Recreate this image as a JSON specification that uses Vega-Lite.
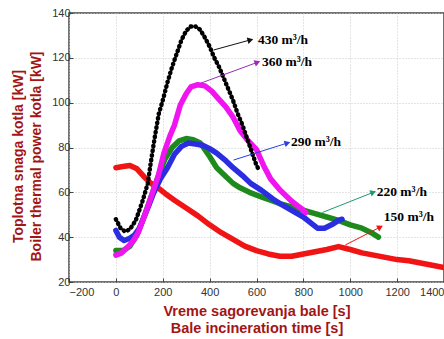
{
  "$schema": "https://vega.github.io/schema/vega-lite/v6.json",
  "width": 375,
  "height": 269,
  "autosize": {"type": "none"},
  "padding": {"left": 69, "top": 13, "right": 0, "bottom": 57},
  "background": "white",
  "config": {
    "view": {"stroke": "#444", "strokeWidth": 1.5},
    "axis": {
      "labelFont": "Liberation Sans",
      "labelFontSize": 11,
      "labelColor": "#333",
      "titleFont": "Liberation Sans",
      "titleFontWeight": "bold",
      "titleColor": "#a31515",
      "gridColor": "#c8c8c8",
      "gridDash": [1, 2],
      "domain": false,
      "tickColor": "#444",
      "tickSize": -4,
      "labelPadding": 3
    }
  },
  "datasets": {
    "curves": [
      {"s": "150", "t": 0, "p": 71}, {"s": "150", "t": 30, "p": 71.5}, {"s": "150", "t": 60, "p": 72}, {"s": "150", "t": 90, "p": 70.5}, {"s": "150", "t": 120, "p": 67}, {"s": "150", "t": 150, "p": 64}, {"s": "150", "t": 180, "p": 62}, {"s": "150", "t": 210, "p": 59.5}, {"s": "150", "t": 250, "p": 56.5}, {"s": "150", "t": 300, "p": 53}, {"s": "150", "t": 350, "p": 49.5}, {"s": "150", "t": 400, "p": 45.5}, {"s": "150", "t": 450, "p": 42}, {"s": "150", "t": 500, "p": 39}, {"s": "150", "t": 550, "p": 36}, {"s": "150", "t": 600, "p": 34}, {"s": "150", "t": 650, "p": 32.5}, {"s": "150", "t": 700, "p": 31.5}, {"s": "150", "t": 750, "p": 31.5}, {"s": "150", "t": 800, "p": 32.5}, {"s": "150", "t": 850, "p": 33.5}, {"s": "150", "t": 900, "p": 34.5}, {"s": "150", "t": 950, "p": 35.8}, {"s": "150", "t": 1000, "p": 34.5}, {"s": "150", "t": 1050, "p": 33}, {"s": "150", "t": 1100, "p": 32}, {"s": "150", "t": 1150, "p": 31}, {"s": "150", "t": 1200, "p": 30}, {"s": "150", "t": 1250, "p": 29.5}, {"s": "150", "t": 1300, "p": 28.5}, {"s": "150", "t": 1350, "p": 27.5}, {"s": "150", "t": 1400, "p": 26.5},
      {"s": "220", "t": 0, "p": 34}, {"s": "220", "t": 30, "p": 34}, {"s": "220", "t": 60, "p": 36}, {"s": "220", "t": 90, "p": 41}, {"s": "220", "t": 120, "p": 49}, {"s": "220", "t": 150, "p": 58}, {"s": "220", "t": 180, "p": 67}, {"s": "220", "t": 210, "p": 75}, {"s": "220", "t": 240, "p": 80}, {"s": "220", "t": 270, "p": 83}, {"s": "220", "t": 300, "p": 84}, {"s": "220", "t": 330, "p": 83.5}, {"s": "220", "t": 360, "p": 82}, {"s": "220", "t": 400, "p": 76}, {"s": "220", "t": 430, "p": 71}, {"s": "220", "t": 470, "p": 67}, {"s": "220", "t": 500, "p": 64}, {"s": "220", "t": 530, "p": 62}, {"s": "220", "t": 570, "p": 60}, {"s": "220", "t": 620, "p": 58}, {"s": "220", "t": 660, "p": 56.5}, {"s": "220", "t": 700, "p": 55}, {"s": "220", "t": 750, "p": 53.5}, {"s": "220", "t": 800, "p": 52}, {"s": "220", "t": 850, "p": 50.5}, {"s": "220", "t": 900, "p": 49}, {"s": "220", "t": 950, "p": 47.5}, {"s": "220", "t": 1000, "p": 45.5}, {"s": "220", "t": 1050, "p": 44}, {"s": "220", "t": 1090, "p": 42}, {"s": "220", "t": 1120, "p": 40},
      {"s": "290", "t": 0, "p": 43}, {"s": "290", "t": 15, "p": 40}, {"s": "290", "t": 35, "p": 38.5}, {"s": "290", "t": 60, "p": 39.5}, {"s": "290", "t": 80, "p": 41}, {"s": "290", "t": 100, "p": 44}, {"s": "290", "t": 120, "p": 49}, {"s": "290", "t": 140, "p": 54}, {"s": "290", "t": 160, "p": 59.5}, {"s": "290", "t": 190, "p": 66}, {"s": "290", "t": 220, "p": 71}, {"s": "290", "t": 250, "p": 77}, {"s": "290", "t": 280, "p": 80.5}, {"s": "290", "t": 310, "p": 82}, {"s": "290", "t": 340, "p": 81.5}, {"s": "290", "t": 370, "p": 81}, {"s": "290", "t": 400, "p": 79.5}, {"s": "290", "t": 430, "p": 77.5}, {"s": "290", "t": 470, "p": 74}, {"s": "290", "t": 500, "p": 71}, {"s": "290", "t": 540, "p": 67.5}, {"s": "290", "t": 575, "p": 64}, {"s": "290", "t": 620, "p": 61}, {"s": "290", "t": 670, "p": 57}, {"s": "290", "t": 700, "p": 55}, {"s": "290", "t": 750, "p": 52}, {"s": "290", "t": 800, "p": 49}, {"s": "290", "t": 830, "p": 46.5}, {"s": "290", "t": 860, "p": 44}, {"s": "290", "t": 890, "p": 44}, {"s": "290", "t": 920, "p": 45.5}, {"s": "290", "t": 950, "p": 47.5}, {"s": "290", "t": 965, "p": 48},
      {"s": "360", "t": 0, "p": 32}, {"s": "360", "t": 25, "p": 33}, {"s": "360", "t": 50, "p": 35.5}, {"s": "360", "t": 75, "p": 38.5}, {"s": "360", "t": 95, "p": 42}, {"s": "360", "t": 115, "p": 47.5}, {"s": "360", "t": 136, "p": 53.5}, {"s": "360", "t": 160, "p": 61}, {"s": "360", "t": 180, "p": 67}, {"s": "360", "t": 205, "p": 77.5}, {"s": "360", "t": 230, "p": 85}, {"s": "360", "t": 250, "p": 90}, {"s": "360", "t": 275, "p": 99}, {"s": "360", "t": 300, "p": 104}, {"s": "360", "t": 320, "p": 107}, {"s": "360", "t": 350, "p": 108}, {"s": "360", "t": 380, "p": 107.5}, {"s": "360", "t": 410, "p": 105}, {"s": "360", "t": 440, "p": 101.5}, {"s": "360", "t": 470, "p": 98}, {"s": "360", "t": 500, "p": 93.5}, {"s": "360", "t": 530, "p": 87.5}, {"s": "360", "t": 560, "p": 83.5}, {"s": "360", "t": 600, "p": 79}, {"s": "360", "t": 630, "p": 72}, {"s": "360", "t": 660, "p": 66}, {"s": "360", "t": 700, "p": 61}, {"s": "360", "t": 750, "p": 56}, {"s": "360", "t": 800, "p": 52}, {"s": "360", "t": 810, "p": 51},
      {"s": "430", "t": 0, "p": 48}, {"s": "430", "t": 20, "p": 44}, {"s": "430", "t": 40, "p": 42.5}, {"s": "430", "t": 60, "p": 43.5}, {"s": "430", "t": 85, "p": 47.5}, {"s": "430", "t": 100, "p": 52}, {"s": "430", "t": 115, "p": 56.5}, {"s": "430", "t": 136, "p": 64}, {"s": "430", "t": 150, "p": 74}, {"s": "430", "t": 165, "p": 84}, {"s": "430", "t": 183, "p": 95}, {"s": "430", "t": 200, "p": 101}, {"s": "430", "t": 220, "p": 109}, {"s": "430", "t": 240, "p": 116}, {"s": "430", "t": 260, "p": 122}, {"s": "430", "t": 280, "p": 128}, {"s": "430", "t": 300, "p": 132}, {"s": "430", "t": 320, "p": 134}, {"s": "430", "t": 340, "p": 134}, {"s": "430", "t": 360, "p": 132.5}, {"s": "430", "t": 380, "p": 129}, {"s": "430", "t": 400, "p": 125}, {"s": "430", "t": 420, "p": 120}, {"s": "430", "t": 440, "p": 116}, {"s": "430", "t": 460, "p": 111}, {"s": "430", "t": 480, "p": 106}, {"s": "430", "t": 500, "p": 101}, {"s": "430", "t": 520, "p": 95}, {"s": "430", "t": 540, "p": 90}, {"s": "430", "t": 560, "p": 84}, {"s": "430", "t": 580, "p": 78}, {"s": "430", "t": 600, "p": 72}, {"s": "430", "t": 608, "p": 70.5}
    ],
    "notes": [
      {"s": "430", "label": "430 m³/h", "t": 417, "p": 123.5, "t2": 574, "p2": 128, "lt": 606, "lp": 128, "angle": -15},
      {"s": "360", "label": "360 m³/h", "t": 362, "p": 108.7, "t2": 604, "p2": 118, "lt": 623, "lp": 118, "angle": -20},
      {"s": "290", "label": "290 m³/h", "t": 502, "p": 74.4, "t2": 732, "p2": 82, "lt": 747, "lp": 82.5, "angle": -17},
      {"s": "220", "label": "220 m³/h", "t": 881, "p": 51, "t2": 1098, "p2": 60, "lt": 1113, "lp": 60, "angle": -21},
      {"s": "150", "label": "150 m³/h", "t": 979, "p": 36.5, "t2": 1128, "p2": 44.5, "lt": 1143, "lp": 49, "angle": -27}
    ]
  },
  "layer": [
    {
      "data": {"name": "curves"},
      "transform": [{"filter": "datum.s != '430'"}],
      "mark": {"type": "line", "strokeWidth": 5.5, "strokeCap": "round", "strokeJoin": "round"},
      "encoding": {
        "x": {
          "field": "t", "type": "quantitative",
          "scale": {"domain": [-200, 1400], "nice": false, "zero": false},
          "axis": {"values": [-200, 0, 200, 400, 600, 800, 1000, 1200, 1400], "format": "d", "labelPadding": 8, "title": ["Vreme sagorevanja bale [s]", "Bale incineration time [s]"], "titleFontSize": 14.5, "titleLineHeight": 17, "titlePadding": 7}
        },
        "y": {
          "field": "p", "type": "quantitative",
          "scale": {"domain": [20, 140], "nice": false, "zero": false},
          "axis": {"values": [20, 40, 60, 80, 100, 120, 140], "format": "d", "title": ["Toplotna snaga kotla [kW]", "Boiler thermal power kotla [kW]"], "titleFontSize": 14, "titleLineHeight": 18, "titlePadding": 8, "titleY": 143}
        },
        "color": {
          "field": "s", "type": "nominal",
          "scale": {"domain": ["150", "220", "290", "360"], "range": ["#f01414", "#1e8a1e", "#2a2ee0", "#f014f0"]},
          "legend": null
        }
      }
    },
    {
      "data": {"name": "curves"},
      "transform": [{"filter": "datum.s == '430'"}],
      "mark": {"type": "line", "strokeWidth": 4.5, "strokeCap": "round", "strokeDash": [0.5, 4.2], "color": "black"},
      "encoding": {
        "x": {"field": "t", "type": "quantitative"},
        "y": {"field": "p", "type": "quantitative"}
      }
    },
    {
      "data": {"name": "notes"},
      "mark": {"type": "rule", "strokeWidth": 1},
      "encoding": {
        "x": {"field": "t", "type": "quantitative"},
        "y": {"field": "p", "type": "quantitative"},
        "x2": {"field": "t2"},
        "y2": {"field": "p2"},
        "color": {"field": "s", "type": "nominal", "scale": {"domain": ["150", "220", "290", "360", "430"], "range": ["#f01414", "#1e9a70", "#2a40e0", "#9a2ab8", "#111111"]}, "legend": null}
      }
    },
    {
      "data": {"name": "notes"},
      "mark": {"type": "point", "shape": "triangle-right", "filled": true, "size": 45, "opacity": 1},
      "encoding": {
        "x": {"field": "t2", "type": "quantitative"},
        "y": {"field": "p2", "type": "quantitative"},
        "angle": {"field": "angle", "type": "quantitative", "scale": null},
        "color": {"field": "s", "type": "nominal", "scale": {"domain": ["150", "220", "290", "360", "430"], "range": ["#f01414", "#1e9a70", "#2a40e0", "#9a2ab8", "#111111"]}, "legend": null}
      }
    },
    {
      "data": {"name": "notes"},
      "mark": {"type": "text", "align": "left", "baseline": "middle", "font": "Liberation Serif", "fontSize": 13.5, "fontWeight": "bold", "color": "black"},
      "encoding": {
        "x": {"field": "lt", "type": "quantitative"},
        "y": {"field": "lp", "type": "quantitative"},
        "text": {"field": "label"}
      }
    }
  ],
  "resolve": {"scale": {"color": "independent"}}
}
